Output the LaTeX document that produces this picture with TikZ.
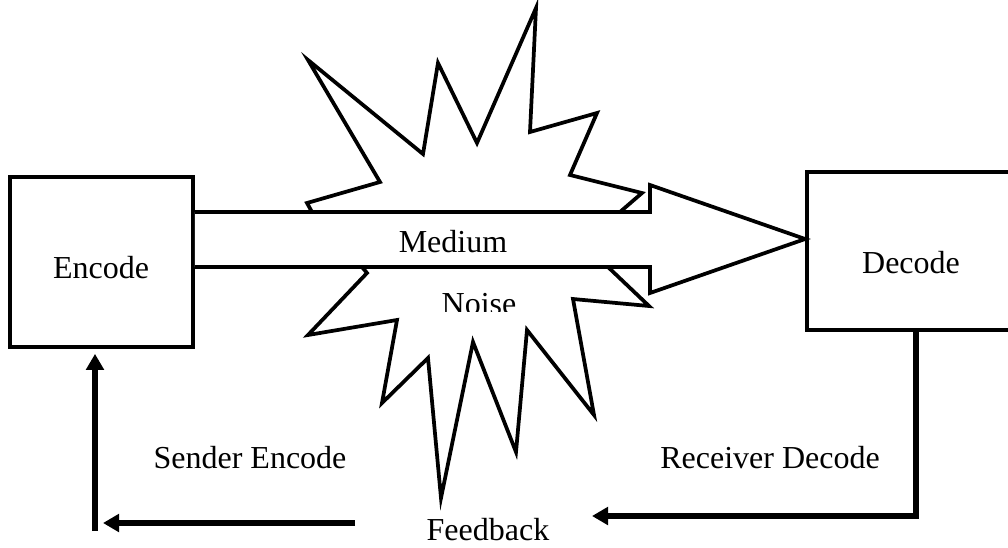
\documentclass[tikz,border=0pt]{standalone}
\usepackage{fontspec}
\setmainfont{Liberation Serif}
\usetikzlibrary{arrows.meta}
\begin{document}
\begin{tikzpicture}[x=0.75pt,y=-0.75pt,
  thin line/.style={line width=2.8pt, line join=miter},
  fb/.style={line width=4pt, -{Triangle[length=12pt,width=13pt]}},
  lbl/.style={anchor=base, inner sep=0pt, font=\fontsize{24pt}{28pt}\selectfont},
  box/.style={draw, thin line, fill=white, inner sep=0pt}]
\useasboundingbox (0,0) rectangle (1008,547);
% boxes
\node[box, minimum width=137.25pt, minimum height=127.5pt] (enc) at (101.5,262) {};
\node[box, minimum width=156pt, minimum height=118.5pt] (dec) at (911,251) {};
% starburst (noise)
\draw[thin line, fill=white] (312,212) -- (307,203) -- (380,182) -- (308,60) -- (423,154) -- (438,63)
  -- (477,143) -- (536,8) -- (530,132) -- (597,113) -- (570,175) -- (642,193) -- (620,212)
  -- (608,267) -- (649,306) -- (573,299) -- (594,415) -- (527,330) -- (516,452) -- (473,342)
  -- (441,498) -- (428,358) -- (382,403) -- (397,320) -- (308,335) -- (367,273) -- (362,267) -- cycle;
% medium arrow
\coordinate (a1) at (enc.east |- 0,212);
\coordinate (a2) at (enc.east |- 0,267);
\coordinate (tip) at (dec.west |- 0,239);
\draw[thin line, fill=white] (a1) -- (650,212) -- (650,185) -- (tip) -- (650,293) -- (650,267) -- (a2);
% texts
\node[lbl] (med) at (453,252) {Medium};
\begin{scope}
  \clip (400,270) rectangle (560,311);
  \node[lbl] (noise) at (479,314) {Noise};
\end{scope}
\node[lbl] (enct) at (101,278) {Encode};
\node[lbl] (dect) at (911,273) {Decode};
\node[lbl] (recv) at (770,468) {Receiver Decode};
\node[lbl] (send) at (250,468) {Sender Encode};
\node[lbl] (feed) at (488,540) {Feedback};
% feedback connectors
\coordinate (rc) at (916,516);
\coordinate (rend) at (592,516);
\draw[fb] (dec.south -| rc) -- (rc) -- (rend);
\coordinate (ls) at (355,523);
\coordinate (le) at (103,523);
\draw[fb] (ls) -- (le);
\coordinate (vs) at (95,531);
\draw[fb] (vs) -- ([yshift=-3.75pt]enc.south -| vs);
\end{tikzpicture}
\end{document}
